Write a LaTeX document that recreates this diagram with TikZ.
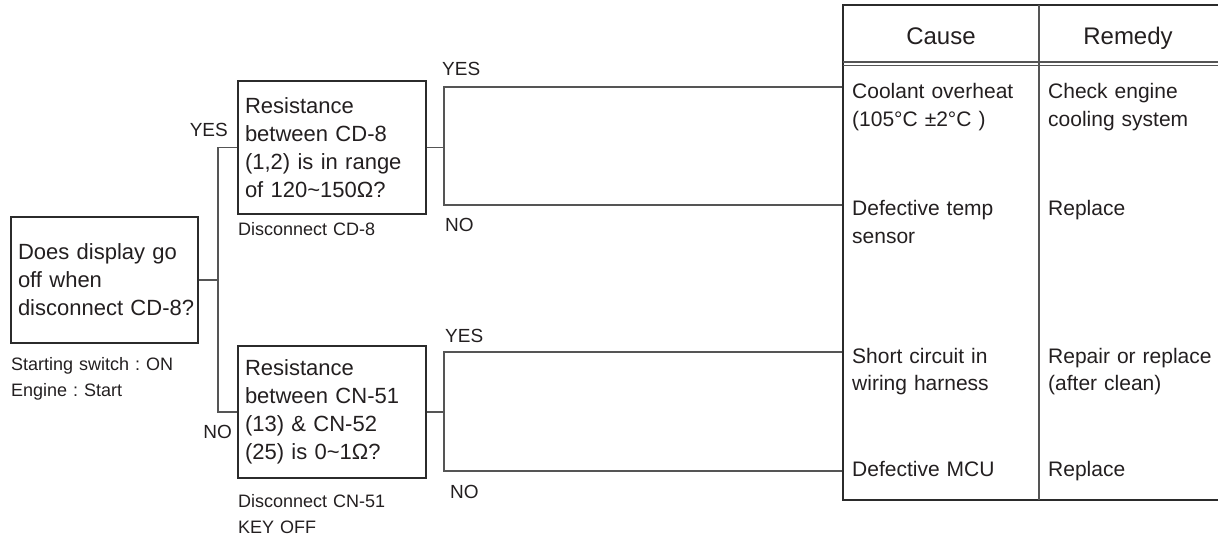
\documentclass[tikz,border=0pt]{standalone}
\usepackage{fontspec}
\setmainfont{Liberation Sans}
\definecolor{ink}{HTML}{231F20}
\definecolor{boxc}{HTML}{2B2B2B}
\definecolor{linec}{HTML}{555555}
\frenchspacing
\exhyphenpenalty=10000
\hyphenpenalty=10000
\begin{document}
\begin{tikzpicture}[x=1pt,y=-1pt,
  every node/.style={inner sep=0pt, text=ink},
  qbox/.style={draw=boxc, line width=1.4pt, inner xsep=7pt, inner ysep=0pt, align=left, font=\fontsize{22}{28}\selectfont},
  note/.style={font=\fontsize{18}{26}\selectfont, align=left, anchor=base west, text width=220pt},
  lab/.style={font=\fontsize{19}{22}\selectfont},
  cell/.style={font=\fontsize{21}{27.5}\selectfont, align=left, anchor=base west, text width=180pt},
  head/.style={font=\fontsize{24}{28}\selectfont, anchor=base},
  conn/.style={draw=linec, line width=1.2pt},
  rule/.style={draw=boxc, line width=1.5pt}]
\useasboundingbox (0,0) rectangle (1218,537);

% decision boxes
\node[qbox, text width=173pt, minimum width=187pt, minimum height=126pt] (main) at (104.5,280) {Does display go\\off when\\\mbox{disconnect CD-8?}};
\node[qbox, text width=174pt, minimum width=188pt, minimum height=133pt] (q1) at (332,147.5) {Resistance\\between CD-8\\(1,2) is in range\\of 120\textasciitilde150Ω?};
\node[qbox, text width=174pt, minimum width=188pt, minimum height=132pt] (q2) at (332,412) {Resistance\\between CN-51\\(13) \& CN-52\\(25) is 0\textasciitilde1Ω?};

% notes
\node[note] (n0) at (11,370) {Starting switch : ON\\Engine : Start};
\node[note] (n1) at (238,236) {Disconnect CD-8};
\node[note] (n2) at (238,507) {Disconnect CN-51\\KEY OFF};

% tree connectors
\coordinate (j0) at (218,280);
\coordinate (j0t) at (218,147.5);
\coordinate (j0b) at (218,412);
\draw[conn] (main.east) -- (j0);
\draw[conn] (q1.west) -- (j0t) -- (j0b) -- (q2.west);

\coordinate (j1) at (444,147.5);
\coordinate (j1t) at (444,87);
\coordinate (j1b) at (444,205);
\coordinate (e1) at (843,87);
\coordinate (e2) at (843,205);
\draw[conn] (q1.east) -- (j1);
\draw[conn] (e1) -- (j1t) -- (j1b) -- (e2);

\coordinate (j2) at (444,412);
\coordinate (j2t) at (444,352);
\coordinate (j2b) at (444,471);
\coordinate (e3) at (843,352);
\coordinate (e4) at (843,471);
\draw[conn] (q2.east) -- (j2);
\draw[conn] (e3) -- (j2t) -- (j2b) -- (e4);

% branch labels
\node[lab, anchor=base east] (ly0) at (228,137) {YES};
\node[lab, anchor=base east] (ln0) at (232,438) {NO};
\node[lab, anchor=base west] (ly1) at (442,76) {YES};
\node[lab, anchor=base west] (ln1) at (445,232) {NO};
\node[lab, anchor=base west] (ly2) at (445,342) {YES};
\node[lab, anchor=base west] (ln2) at (450,498) {NO};

% table
\coordinate (tl) at (843,5);
\coordinate (tr) at (1218,5);
\coordinate (bl) at (843,500);
\coordinate (br) at (1218,500);
\coordinate (ct) at (1039,5);
\coordinate (cb) at (1039,500);
\coordinate (h1l) at (843,62);
\coordinate (h1r) at (1218,62);
\coordinate (h2l) at (843,65.5);
\coordinate (h2r) at (1218,65.5);
\draw[rule] (tr) -- (tl) -- (bl) -- (br);
\draw[conn] (ct) -- (cb);
\draw[conn] (h1l) -- (h1r);
\draw[conn] (h2l) -- (h2r);

\node[head] (hc) at (941,45) {Cause};
\node[head] (hr) at (1128,45) {Remedy};

\node[cell] (c1) at (852,99) {Coolant overheat\\(105°C ±2°C )};
\node[cell] (c2) at (852,216) {Defective temp\\sensor};
\node[cell] (c3) at (852,363) {Short circuit in\\wiring harness};
\node[cell] (c4) at (852,476) {Defective MCU};
\node[cell] (r1) at (1048,99) {Check engine\\cooling system};
\node[cell] (r2) at (1048,216) {Replace};
\node[cell] (r3) at (1048,363) {Repair or replace\\(after clean)};
\node[cell] (r4) at (1048,476) {Replace};
\end{tikzpicture}
\end{document}
